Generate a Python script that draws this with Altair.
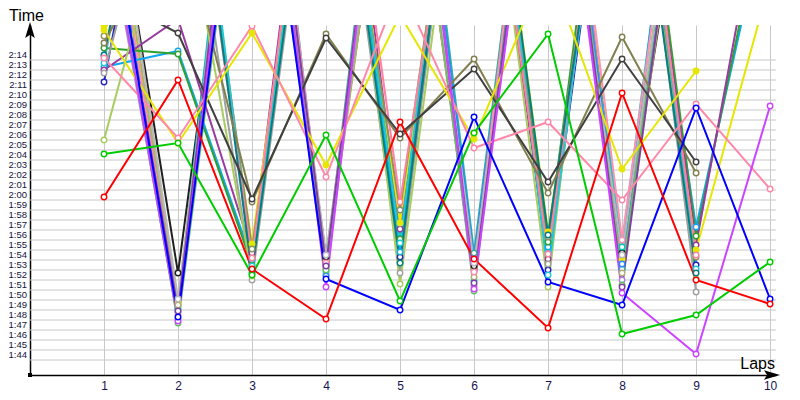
import altair as alt
import pandas as pd

laps = list(range(1, 11))
y_label_values = list(range(104, 135))   # seconds: 1:44 .. 2:14
y_label_text = [f"{v // 60}:{v % 60:02d}" for v in y_label_values]
title_y = ["Time"]
title_x = ["Laps"]
N = None

# ---- lap times in seconds (values above 137 s run off the top of the plot) ----
red       = [119.8, 131.5, 112.6, 107.6, 127.3, 113.6, 106.7, 130.2, 111.5, 109.1]
green     = [124.1, 125.2, 112.0, 126.0, 109.4, 126.2, 136.1, 106.1, 108.0, 113.3]
pink      = [133.7, 125.7, 136.9, 121.8, 141.0, 124.7, 127.3, 119.5, 129.1, 120.6]
yellow    = [136.5, 125.2, 136.2, 123.0, 138.0, 125.6, 143.0, 122.6, 132.4, N]
darkgray  = [140.0, 136.2, 119.6, 135.7, 126.1, 132.6, 121.3, 133.6, 123.3, N]
olive     = [135.2, 149.0, 119.3, 136.1, 125.7, 133.6, 120.2, 135.8, 122.2, N]
blue      = [152.0, 107.8, 166.0, 111.6, 108.5, 127.8, 111.3, 109.0, 128.7, 109.6]
magenta   = [150.0, 107.4, 170.0, 110.8, 174.0, 110.6, 168.0, 110.2, 104.1, 128.9]

yellow3   = [156.0, 109.3, 172.0, 113.4, 170.0, 112.8, 175.0, 113.6, 168.0, N]
black     = [158.0, 112.2, 168.0, 113.8, 165.0, 112.9, 170.0, 114.2, 160.0, N]
cyan      = [151.0, 108.6, 176.0, 112.3, 171.0, 111.4, 169.0, 114.8, 172.0, N]
teal      = [154.0, 108.9, 167.0, 113.0, 175.0, 114.2, 173.0, 112.6, 165.0, N]
lavender  = [149.0, 107.6, 173.0, 112.0, 169.0, 110.9, 176.0, 111.5, 170.0, N]
azure     = [153.0, 108.3, 169.0, 111.9, 173.0, 113.6, 171.0, 113.1, 174.0, N]
khaki     = [157.0, 109.0, 171.0, 112.7, 166.0, 111.8, 167.0, 112.2, 163.0, N]
pink2     = [155.0, 108.0, 174.0, 113.2, 172.0, 112.3, 174.0, 115.5, 169.0, N]
green3    = [150.0, 107.2, 165.0, 112.5, 170.0, 110.4, 172.0, 111.0, 171.0, N]
silver    = [159.0, 109.6, 170.0, 114.0, 168.0, 113.2, 166.0, 114.0, 167.0, N]
purple2   = [152.0, 108.4, 172.0, 112.9, 173.0, 111.2, 170.0, 110.8, 166.0, N]

navy      = [131.3, 170.0, 112.6, 172.0, 113.8, 170.0, 112.5, 168.0, 113.0, N]
lightblue = [132.8, 134.4, 113.5, 168.0, 114.3, 171.0, 114.8, 166.0, 116.8, 150.0]
darkgreen = [134.7, 134.1, 113.0, 170.0, 115.6, 169.0, 115.3, 172.0, 115.9, 152.0]
purple    = [132.5, 137.6, 114.2, 174.0, 116.6, 166.0, 113.6, 170.0, 115.0, 155.0]
yellow2   = [136.9, 165.0, 115.1, 169.0, 117.2, 172.0, 116.3, 165.0, 114.5, 141.4]
gray      = [132.2, 160.0, 111.5, 167.0, 112.2, 171.0, 113.1, 169.0, 110.3, N]
lightgreen= [125.5, 153.0, 111.9, 171.0, 111.1, 168.0, 110.8, 174.0, 111.6, N]
olive2    = [135.9, 168.0, 114.6, 166.0, 118.5, 170.0, 115.8, 168.0, 113.8, N]
cyan2     = [133.2, 172.0, 112.9, 170.0, 115.2, 174.0, 112.0, 171.0, 112.6, N]
pink3     = [133.9, 166.0, 113.7, 173.0, 119.3, 167.0, 114.1, 170.0, 114.0, N]
darkteal  = [134.0, 169.0, 112.2, 168.0, 113.2, 172.0, 116.0, 166.0, 112.2, N]

series = [
    ("yellow3", "#e6e600", "#e6e600", yellow3),
    ("black", "#202020", "white", black),
    ("cyan", "#00c8c8", "white", cyan),
    ("teal", "#30b0a0", "white", teal),
    ("lavender", "#b080e0", "white", lavender),
    ("azure", "#1e90ff", "white", azure),
    ("khaki", "#b0b070", "white", khaki),
    ("pink2", "#ff90b0", "white", pink2),
    ("green3", "#60c060", "white", green3),
    ("silver", "#b8b8b8", "white", silver),
    ("purple2", "#8040a0", "white", purple2),
    ("navy", "#2424c0", "white", navy),
    ("lightblue", "#10a8f0", "white", lightblue),
    ("darkgreen", "#30a030", "white", darkgreen),
    ("purple", "#9a3aa0", "white", purple),
    ("yellow2", "#e6e600", "#e6e600", yellow2),
    ("gray", "#a0a0a0", "white", gray),
    ("lightgreen", "#a8cc60", "white", lightgreen),
    ("olive2", "#909060", "white", olive2),
    ("cyan2", "#20c8d8", "white", cyan2),
    ("pink3", "#ff80a0", "white", pink3),
    ("darkteal", "#008080", "white", darkteal),
    ("olive", "#808050", "white", olive),
    ("darkgray", "#404040", "white", darkgray),
    ("yellow", "#e6e600", "#e6e600", yellow),
    ("pink", "#ff88aa", "white", pink),
    ("magenta", "#cc44ff", "white", magenta),
    ("blue", "#0000ff", "white", blue),
    ("green", "#00cc00", "white", green),
    ("red", "#ff0000", "white", red),
]

rows = []
for order_i, (name, col, fill, vals) in enumerate(series):
    for lap, v in zip(laps, vals):
        if v is not None:
            rows.append({"driver": name, "lap": lap, "time": v,
                         "stroke": col, "fill": fill, "k": order_i})
df = pd.DataFrame(rows)
names = [s[0] for s in series]
colors = [s[1] for s in series]

X_MAX = 10.08
Y_MIN, Y_MAX = 102, 137
xs = alt.Scale(domain=[0, X_MAX], nice=False, zero=False)
ys = alt.Scale(domain=[Y_MIN, Y_MAX], nice=False, zero=False)

x_axis = alt.Axis(
    values=laps, format="d", grid=True, gridColor="#c8c8c8", gridWidth=1, ticks=False,
    domainColor="black", domainWidth=1.5, labelFontSize=12,
    labelColor="#141450", labelPadding=5, labelFlush=False,
    labelFont="Liberation Sans", title=None)
y_axis = alt.Axis(labels=False, grid=False, ticks=False,
                  domainColor="black", domainWidth=1.5, title=None)

grid_df = pd.DataFrame({"g": [v - 0.5 for v in y_label_values]})
hgrid = alt.Chart(grid_df).mark_rule(color="#c8c8c8", strokeWidth=1).encode(
    y=alt.Y("g:Q", scale=ys, axis=y_axis),
    x=alt.X(datum=0, scale=xs, axis=x_axis), x2=alt.datum(X_MAX))

ylab_df = pd.DataFrame({"v": y_label_values, "t": y_label_text})
ylabels = alt.Chart(ylab_df).mark_text(
    align="right", baseline="middle", dx=-3, fontSize=9.5,
    font="Liberation Sans", color="#141440").encode(
    x=alt.datum(0), y=alt.Y("v:Q"), text="t:N")

base = alt.Chart(df)
lines = base.mark_line(clip=True, strokeWidth=2).encode(
    x=alt.X("lap:Q", scale=xs, axis=x_axis),
    y=alt.Y("time:Q", scale=ys, axis=y_axis),
    color=alt.Color("driver:N", scale=alt.Scale(domain=names, range=colors), legend=None),
    order="lap:Q",
)
points = base.mark_point(shape="circle", filled=True, size=30, strokeWidth=1.4,
                         clip=True, opacity=1).encode(
    x="lap:Q", y="time:Q",
    fill=alt.Fill("fill:N", scale=None),
    stroke=alt.Stroke("stroke:N", scale=None),
    order="k:Q",
)

arrow_up = alt.Chart(pd.DataFrame({"a": [0]})).mark_point(
    shape="M0,-1L0.6,1L0,0.6L-0.6,1Z", filled=True, color="black", size=260,
    opacity=1, yOffset=5).encode(x=alt.datum(0), y=alt.datum(Y_MAX))
arrow_right = alt.Chart(pd.DataFrame({"a": [0]})).mark_point(
    shape="M1,0L-1,-0.6L-0.6,0L-1,0.6Z", filled=True, color="black", size=260,
    opacity=1, xOffset=-4).encode(x=alt.datum(X_MAX), y=alt.datum(Y_MIN))
origin = alt.Chart(pd.DataFrame({"a": [0]})).mark_square(
    color="black", size=16, opacity=1).encode(x=alt.datum(0), y=alt.datum(Y_MIN))

t_time = alt.Chart(pd.DataFrame({"t": title_y})).mark_text(
    fontSize=16, font="Liberation Sans", align="left", baseline="middle",
    color="black").encode(text="t:N", x=alt.value(-21), y=alt.value(-9))
t_laps = alt.Chart(pd.DataFrame({"t": title_x})).mark_text(
    fontSize=16, font="Liberation Sans", align="right", baseline="middle",
    color="black").encode(text="t:N", x=alt.value(745), y=alt.value(339))

chart = alt.layer(hgrid, ylabels, lines, points, arrow_up, arrow_right, origin,
                  t_time, t_laps).properties(
    width=746, height=350,
    autosize=alt.AutoSizeParams(type="none"),
    padding={"left": 22, "top": 17, "right": 16, "bottom": 17},
    background="white",
).configure_view(strokeWidth=0)

chart.save("out.html", embed_options={"renderer": "svg", "actions": False})
